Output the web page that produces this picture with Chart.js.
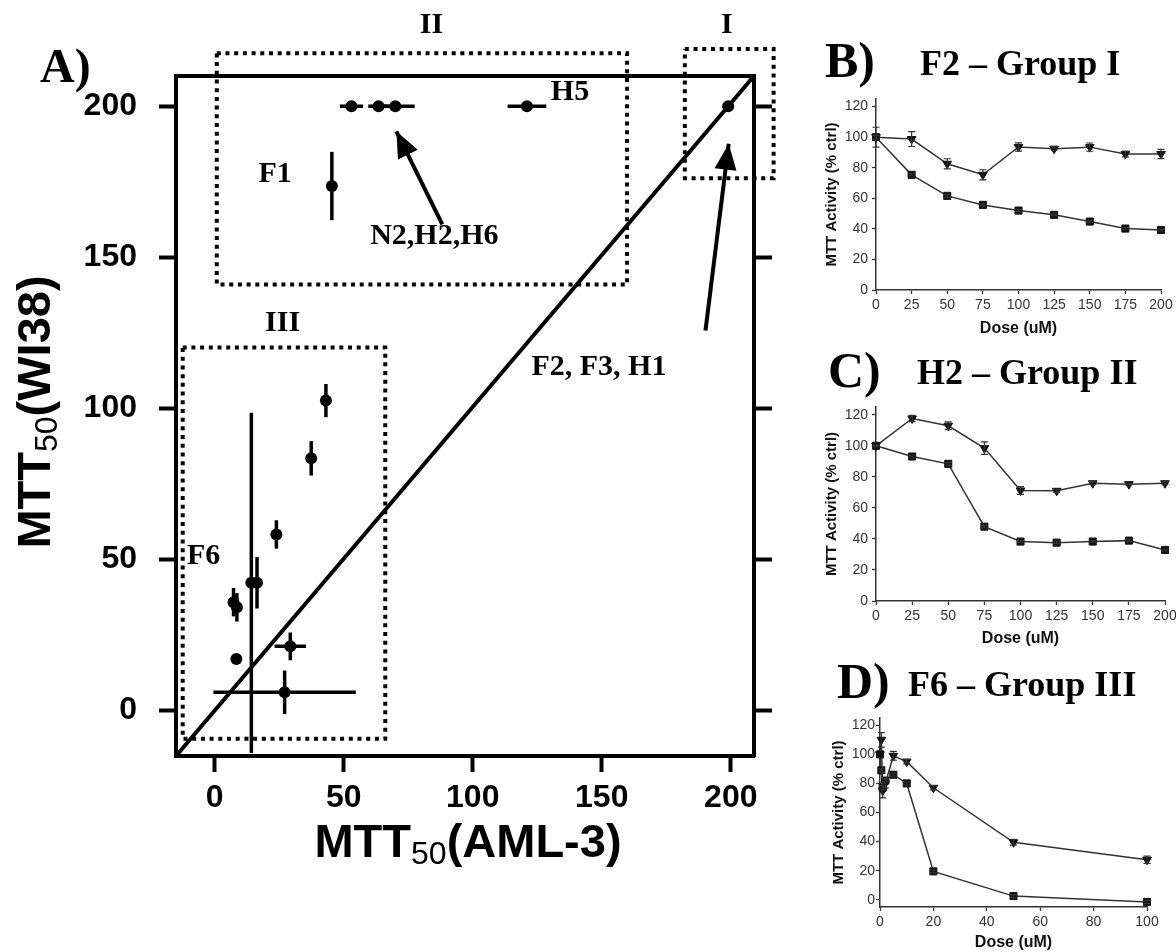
<!DOCTYPE html>
<html>
<head>
<meta charset="utf-8">
<title>MTT50 AML-3 vs WI38</title>
<script src="https://cdn.jsdelivr.net/npm/chart.js@4.4.1/dist/chart.umd.min.js"></script>
<style>
  body { margin: 0; background: #fff; }
  #page { position: relative; width: 1176px; height: 952px; overflow: hidden; background: #fff; }
  .box { position: absolute; }
  .tag {
    position: absolute;
    font-family: 'Liberation Serif', 'Times New Roman', serif;
    font-weight: bold;
    line-height: 1;
    white-space: nowrap;
    color: #000;
  }
</style>
</head>
<body>
<div id="page">
  <div class="box" style="left:0;top:0;width:780px;height:952px"><canvas id="chartA"></canvas></div>
  <div class="box" style="left:790px;top:60px;width:386px;height:280px"><canvas id="chartB"></canvas></div>
  <div class="box" style="left:790px;top:370px;width:400px;height:281px"><canvas id="chartC"></canvas></div>
  <div class="box" style="left:790px;top:680px;width:386px;height:272px"><canvas id="chartD"></canvas></div>

  <div class="tag" style="left:40px;top:42px;font-size:48px">A)</div>
  <div class="tag" style="left:825px;top:35px;font-size:50px">B)</div>
  <div class="tag" style="left:920px;top:45px;font-size:36px">F2 – Group I</div>
  <div class="tag" style="left:828px;top:345px;font-size:50px">C)</div>
  <div class="tag" style="left:917px;top:354px;font-size:36px">H2 – Group II</div>
  <div class="tag" style="left:837px;top:656px;font-size:50px">D)</div>
  <div class="tag" style="left:908px;top:666px;font-size:36px">F6 – Group III</div>
</div>

<script>
// --- PANEL A DATA ---
const ticksA = [0, 50, 100, 150, 200];
const diagX = [-15, 209];
const diagY = [-15, 210];

// group I (F2, F3, H1)
const group1X = [199];
const group1Y = [200];

// group II (F1, N2, H2, H6, H5)
const group2X = [45.4, 53, 63.5, 70, 121];
const group2Y = [173.6, 200, 200, 200, 200];
const group2ErrX = [0, 4.5, 4, 7.5, 7.5];
const group2ErrY = [11.3, 0, 0, 0, 0];

// group III
const group3X = [43.1, 37.4, 23.9, 14.2, 16.4, 7.3, 8.6, 8.4, 29.3, 27.1];
const group3Y = [102.6, 83.5, 58.3, 42.3, 42.3, 35.9, 34.2, 17.1, 21.3, 6.1];
const group3ErrX = [0, 0, 0, 0, 0, 0, 0, 0, 6.1, 27.6];
const group3ErrY = [5.5, 5.7, 4.7, 56.3, 8.5, 4.7, 4.7, 0, 4.6, 7.2];

// dotted group boxes [min, max]
const boxIX = [182.2, 216.6];
const boxIY = [176.2, 218.9];
const boxIIX = [0.8, 159.8];
const boxIIY = [141, 217.5];
const boxIIIX = [-12.4, 66.1];
const boxIIIY = [-9.3, 120.2];

// arrows [tail, tip]
const arrow1X = [88.2, 70.4];
const arrow1Y = [160.9, 191.7];
const arrow2X = [190.2, 199.2];
const arrow2Y = [125.8, 187.6];

const labelTextA = ['II', 'I', 'H5', 'F1', 'N2,H2,H6', 'III', 'F2, F3, H1', 'F6'];
const labelXA = [84, 198.5, 137.7, 23.4, 85.1, 26.3, 148.9, -4.3];
const labelYA = [226.8, 226.8, 204.6, 177.5, 157, 128.1, 113.6, 51];

// --- PANELS B-D DATA ---
const doseTicks200 = [0, 25, 50, 75, 100, 125, 150, 175, 200];
const doseTicks100 = [0, 20, 40, 60, 80, 100];
const activityTicks = [0, 20, 40, 60, 80, 100, 120];

const doseB = [0, 25, 50, 75, 100, 125, 150, 175, 200];
const triB = [100, 98.8, 82.6, 75.4, 93.6, 92.5, 93.5, 89, 89];
const triErrB = [6.5, 4.9, 3.3, 3.3, 2.7, 1, 2.7, 1.9, 3];
const sqB = [100, 75.4, 61.6, 55.7, 52, 49.2, 44.8, 40.2, 39.3];
const sqErrB = [1, 0.8, 0.8, 0.6, 0.6, 0.6, 0.6, 0.6, 0.6];

const doseC = [0, 25, 50, 75, 100, 125, 150, 175, 200];
const triC = [100, 117.6, 112.9, 98.5, 71.2, 71, 75.9, 75.3, 75.9];
const triErrC = [0.5, 2, 2.5, 4, 2.5, 1, 1, 0.5, 1];
const sqC = [100, 93.1, 88.4, 47.9, 38.3, 37.6, 38.3, 38.9, 32.9];
const sqErrC = [0.5, 0.8, 0.8, 0.8, 0.6, 0.6, 0.6, 0.6, 0.6];

const doseD = [0, 0.5, 1, 2, 5, 10, 20, 50, 100];
const triD = [100, 110, 75, 80, 99, 95, 77, 39.5, 27.5];
const triErrD = [0, 5, 5, 3, 3, 1.5, 1.5, 2, 2.5];
const sqD = [100, 89, 77, 82, 86, 80, 19.5, 2.5, -1.5];
const sqErrD = [0, 1, 1.5, 1, 1, 1, 1, 1, 1];

// --- HELPERS ---
const SANS = "'Liberation Sans', Arial, Helvetica, sans-serif";
const SERIF = "'Liberation Serif', 'Times New Roman', serif";
Chart.defaults.font.family = SANS;

const toPoints = (xs, ys) => xs.map((x, i) => ({ x, y: ys[i] }));
const boxPoints = (bx, by) => toPoints(
  [bx[0], bx[1], bx[1], bx[0], bx[0]],
  [by[1], by[1], by[0], by[0], by[1]]
);
const fixedTicks = (values) => (scale) => { scale.ticks = values.map((v) => ({ value: v })); };

// error bars drawn from errX / errY arrays on a dataset
const errorBars = {
  id: 'errorBars',
  afterDatasetsDraw(chart, args, opts) {
    const { ctx, chartArea } = chart;
    ctx.save();
    if (opts.clip) {
      ctx.beginPath();
      ctx.rect(chartArea.left, chartArea.top, chartArea.width, chartArea.height);
      ctx.clip();
    }
    ctx.strokeStyle = opts.color;
    ctx.lineWidth = opts.width;
    chart.data.datasets.forEach((ds, i) => {
      if (!ds.errX && !ds.errY) return;
      const meta = chart.getDatasetMeta(i);
      const xs = chart.scales[meta.xAxisID];
      const ys = chart.scales[meta.yAxisID];
      const cap = opts.cap || 0;
      ds.data.forEach((p, j) => {
        const px = xs.getPixelForValue(p.x);
        const py = ys.getPixelForValue(p.y);
        const ex = ds.errX ? ds.errX[j] : 0;
        const ey = ds.errY ? ds.errY[j] : 0;
        ctx.beginPath();
        if (ex) {
          const x1 = xs.getPixelForValue(p.x - ex);
          const x2 = xs.getPixelForValue(p.x + ex);
          ctx.moveTo(x1, py);
          ctx.lineTo(x2, py);
        }
        if (ey) {
          const y1 = ys.getPixelForValue(p.y - ey);
          const y2 = ys.getPixelForValue(p.y + ey);
          ctx.moveTo(px, y1);
          ctx.lineTo(px, y2);
          if (cap) {
            ctx.moveTo(px - cap, y1);
            ctx.lineTo(px + cap, y1);
            ctx.moveTo(px - cap, y2);
            ctx.lineTo(px + cap, y2);
          }
        }
        ctx.stroke();
      });
    });
    ctx.restore();
  },
};

// filled head at the last point of datasets flagged with arrow: true
const arrowHeads = {
  id: 'arrowHeads',
  afterDatasetsDraw(chart, args, opts) {
    const { ctx } = chart;
    chart.data.datasets.forEach((ds, i) => {
      if (!ds.arrow) return;
      const els = chart.getDatasetMeta(i).data;
      const a = els[els.length - 2];
      const b = els[els.length - 1];
      const ang = Math.atan2(b.y - a.y, b.x - a.x);
      ctx.save();
      ctx.translate(b.x, b.y);
      ctx.rotate(ang);
      ctx.fillStyle = '#000';
      ctx.beginPath();
      ctx.moveTo(0, 0);
      ctx.lineTo(-opts.length, -opts.half);
      ctx.lineTo(-opts.length, opts.half);
      ctx.closePath();
      ctx.fill();
      ctx.restore();
    });
  },
};

// text annotations placed in data coordinates
const textLabels = {
  id: 'textLabels',
  afterDraw(chart, args, opts) {
    const { ctx } = chart;
    const xs = chart.scales.x;
    const ys = chart.scales.y;
    ctx.save();
    ctx.font = opts.font;
    ctx.fillStyle = '#000';
    ctx.textAlign = 'center';
    ctx.textBaseline = 'middle';
    opts.texts.forEach((t, i) => {
      ctx.fillText(t, xs.getPixelForValue(opts.xs[i]), ys.getPixelForValue(opts.ys[i]));
    });
    ctx.restore();
  },
};

// axis titles with a subscript part: [main, sub, main]
function drawSubText(ctx, parts, cx, baseline) {
  const big = `bold 47px ${SANS}`;
  const small = `32px ${SANS}`;
  const fonts = [big, small, big];
  const shift = [0, 7, 0];
  let total = 0;
  const widths = parts.map((p, i) => {
    ctx.font = fonts[i];
    const w = ctx.measureText(p).width;
    total += w;
    return w;
  });
  let x = cx - total / 2;
  parts.forEach((p, i) => {
    ctx.font = fonts[i];
    ctx.fillText(p, x, baseline + shift[i]);
    x += widths[i];
  });
}

const axisTitlesA = {
  id: 'axisTitlesA',
  afterDraw(chart) {
    const { ctx } = chart;
    ctx.save();
    ctx.fillStyle = '#000';
    ctx.textAlign = 'left';
    ctx.textBaseline = 'alphabetic';
    drawSubText(ctx, ['MTT', '50', '(AML-3)'], 468, 857);
    ctx.translate(50, 412);
    ctx.rotate(-Math.PI / 2);
    drawSubText(ctx, ['MTT', '50', '(WI38)'], 0, 0);
    ctx.restore();
  },
};

// --- PANEL A ---
function frameAxis(extra) {
  const base = {
    type: 'linear',
    min: -15,
    max: 210,
    grid: { drawOnChartArea: false, drawTicks: true, tickLength: 17, tickWidth: 4, tickColor: '#000', color: '#000' },
    border: { display: true, color: '#000', width: 4 },
    ticks: { color: '#000', font: { size: 32, weight: 'bold' }, padding: 22 },
    afterBuildTicks: fixedTicks(ticksA),
  };
  return Object.assign(base, extra);
}

const lineStyle = { showLine: true, borderColor: '#000', pointRadius: 0, borderCapStyle: 'butt', clip: false };
const dotted = Object.assign({}, lineStyle, { borderWidth: 4, borderDash: [4, 4.7] });
const dots = { pointRadius: 6, backgroundColor: '#000', borderColor: '#000', pointBorderWidth: 0, showLine: false };

new Chart(document.getElementById('chartA'), {
  type: 'scatter',
  data: {
    datasets: [
      Object.assign({ data: toPoints(diagX, diagY), borderWidth: 4 }, lineStyle, { clip: true }),
      Object.assign({ data: boxPoints(boxIX, boxIY) }, dotted),
      Object.assign({ data: boxPoints(boxIIX, boxIIY) }, dotted),
      Object.assign({ data: boxPoints(boxIIIX, boxIIIY) }, dotted),
      Object.assign({ data: toPoints(arrow1X, arrow1Y), borderWidth: 4, arrow: true }, lineStyle),
      Object.assign({ data: toPoints(arrow2X, arrow2Y), borderWidth: 4, arrow: true }, lineStyle),
      Object.assign({ data: toPoints(group1X, group1Y) }, dots),
      Object.assign({ data: toPoints(group2X, group2Y), errX: group2ErrX, errY: group2ErrY }, dots),
      Object.assign({ data: toPoints(group3X, group3Y), errX: group3ErrX, errY: group3ErrY }, dots),
    ],
  },
  options: {
    responsive: true,
    maintainAspectRatio: false,
    animation: false,
    events: [],
    layout: { padding: { top: 76, left: 0, right: 0, bottom: 0 } },
    plugins: {
      legend: { display: false },
      tooltip: { enabled: false },
      errorBars: { color: '#000', width: 3.5, clip: true },
      arrowHeads: { length: 26, half: 11 },
      textLabels: { texts: labelTextA, xs: labelXA, ys: labelYA, font: `bold 30px ${SERIF}` },
    },
    scales: {
      x: frameAxis({
        position: 'bottom',
        max: 209,
        grid: { drawOnChartArea: false, tickLength: 16, tickWidth: 4, tickColor: '#000', color: '#000' },
        ticks: { color: '#000', font: { size: 32, weight: 'bold' }, padding: 7, maxRotation: 0 },
        afterFit: (s) => { s.height = 196; },
      }),
      x2: {
        type: 'linear', position: 'top', min: -15, max: 209,
        ticks: { display: false },
        grid: { display: false },
        border: { display: true, color: '#000', width: 4 },
        afterFit: (s) => { s.height = 0; },
      },
      y: frameAxis({ position: 'left', afterFit: (s) => { s.width = 176; } }),
      y2: frameAxis({
        position: 'right',
        ticks: { display: false },
        grid: { drawOnChartArea: false, tickLength: 18, tickWidth: 4, tickColor: '#000', color: '#000' },
        afterFit: (s) => { s.width = 26; },
      }),
    },
  },
  plugins: [errorBars, arrowHeads, textLabels, axisTitlesA],
});

// --- PANELS B-D ---
function doseChart(id, cfg) {
  const seriesStyle = {
    showLine: true,
    clip: false,
    borderColor: '#333',
    borderWidth: 1.5,
    backgroundColor: '#111',
    pointBorderColor: '#111',
    pointBorderWidth: 1,
    pointRadius: 5,
  };
  return new Chart(document.getElementById(id), {
    type: 'scatter',
    data: {
      datasets: [
        Object.assign({ data: toPoints(cfg.dose, cfg.tri), errY: cfg.triErr, pointStyle: 'triangle', pointRotation: 180 }, seriesStyle),
        Object.assign({ data: toPoints(cfg.dose, cfg.sq), errY: cfg.sqErr, pointStyle: 'rect' }, seriesStyle),
      ],
    },
    options: {
      responsive: true,
      maintainAspectRatio: false,
      animation: false,
      events: [],
      layout: { padding: { top: cfg.padTop, right: cfg.padRight, left: 0, bottom: 0 } },
      plugins: {
        legend: { display: false },
        tooltip: { enabled: false },
        errorBars: { color: '#333', width: 1.2, cap: 3.5 },
      },
      scales: {
        x: {
          type: 'linear',
          min: 0,
          max: cfg.xMax,
          afterBuildTicks: fixedTicks(cfg.xTicks),
          grid: { drawOnChartArea: false, tickLength: 4, tickWidth: 1.3, tickColor: '#333' },
          border: { color: '#333', width: 1.5 },
          ticks: { color: '#333', font: { size: 14 }, padding: 2.6, maxRotation: 0 },
          title: { display: true, text: 'Dose (uM)', color: '#111', font: { size: 16, weight: 'bold' }, padding: { top: 0, bottom: cfg.xTitlePad } },
          afterFit: (s) => { s.height = cfg.xHeight; },
        },
        y: {
          type: 'linear',
          min: cfg.yMin,
          max: 125,
          afterBuildTicks: fixedTicks(activityTicks),
          grid: { drawOnChartArea: false, tickLength: 4, tickWidth: 1.3, tickColor: '#333' },
          border: { color: '#333', width: 1.5 },
          ticks: { color: '#333', font: { size: 14 }, padding: cfg.yTickPad },
          title: { display: true, text: 'MTT Activity (% ctrl)', color: '#111', font: { size: 15, weight: 'bold' }, padding: { top: cfg.yTitlePad, bottom: 0 } },
          afterFit: (s) => { s.width = cfg.yWidth; },
        },
      },
    },
    plugins: [errorBars],
  });
}

doseChart('chartB', {
  dose: doseB, tri: triB, triErr: triErrB, sq: sqB, sqErr: sqErrB,
  xMax: 200, xTicks: doseTicks200, yMin: 0,
  padTop: 39, padRight: 15, xHeight: 50, yWidth: 86,
  xTitlePad: 1.4, yTitlePad: 33, yTickPad: 4,
});

doseChart('chartC', {
  dose: doseC, tri: triC, triErr: triErrC, sq: sqC, sqErr: sqErrC,
  xMax: 200, xTicks: doseTicks200, yMin: 0,
  padTop: 37, padRight: 25, xHeight: 50, yWidth: 86,
  xTitlePad: 2.4, yTitlePad: 33, yTickPad: 4,
});

doseChart('chartD', {
  dose: doseD, tri: triD, triErr: triErrD, sq: sqD, sqErr: sqErrD,
  xMax: 100, xTicks: doseTicks100, yMin: -5,
  padTop: 38, padRight: 29, xHeight: 45, yWidth: 90,
  xTitlePad: 0, yTitlePad: 40, yTickPad: 1,
});
</script>
</body>
</html>
